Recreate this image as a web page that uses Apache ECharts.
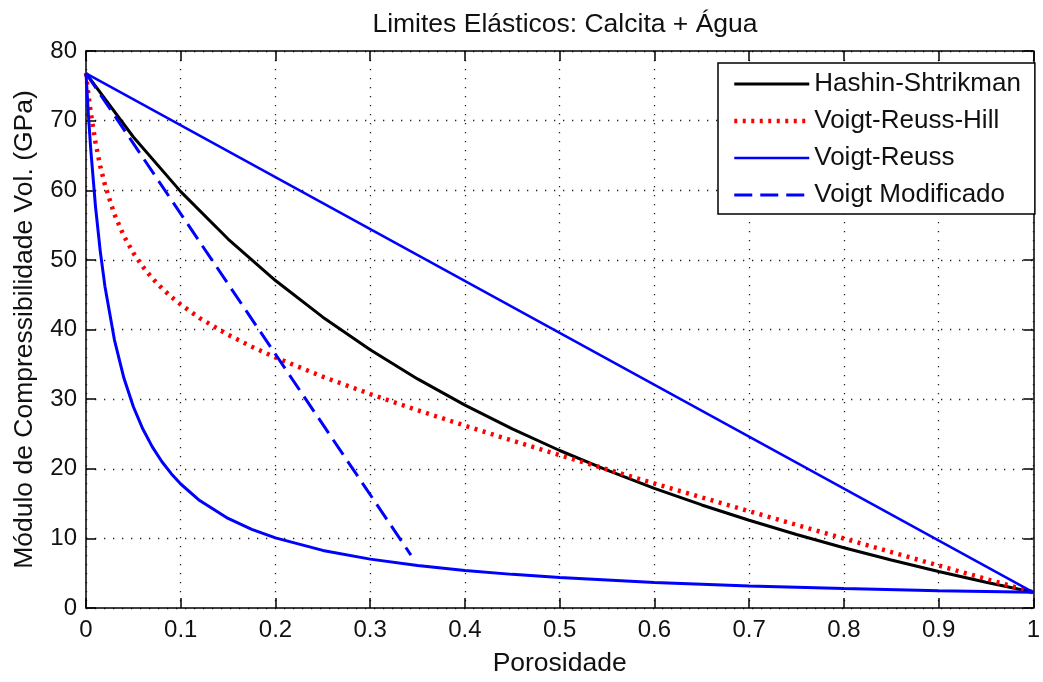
<!DOCTYPE html>
<html>
<head>
<meta charset="utf-8">
<script src="https://cdn.jsdelivr.net/npm/echarts@6/dist/echarts.min.js"></script>
<style>
  html, body { margin: 0; padding: 0; background: #fff; }
  #chart { width: 1043px; height: 682px; }
</style>
</head>
<body>
<div id="chart"></div>
<script>
// porosity samples (dense near 0 where the bounds bend fast)
const phiDense = [0, 0.0025, 0.005, 0.01, 0.015, 0.02, 0.03, 0.04, 0.05, 0.06, 0.07, 0.08, 0.09, 0.1, 0.12, 0.15, 0.175, 0.2, 0.25, 0.3, 0.35, 0.4, 0.45, 0.5, 0.6, 0.7, 0.8, 0.9, 1]
const kReuss = [76.8, 70.95, 65.89, 57.69, 51.3, 46.19, 38.52, 33.03, 28.91, 25.7, 23.14, 21.04, 19.29, 17.81, 15.43, 12.86, 11.3, 10.07, 8.27, 7.02, 6.1, 5.39, 4.83, 4.37, 3.68, 3.17, 2.79, 2.49, 2.25]
const kVRH = [76.8, 73.78, 71.16, 66.87, 63.49, 60.75, 56.54, 53.43, 50.99, 49.02, 47.36, 45.94, 44.69, 43.58, 41.64, 39.24, 37.53, 35.98, 33.22, 30.73, 28.41, 26.19, 24.04, 21.95, 17.88, 13.9, 9.98, 6.1, 2.25]

const phiHS = [0, 0.05, 0.1, 0.15, 0.2, 0.25, 0.3, 0.35, 0.4, 0.45, 0.5, 0.55, 0.6, 0.65, 0.7, 0.75, 0.8, 0.85, 0.9, 0.95, 1]
const kHS = [76.8, 67.65, 59.8, 52.99, 47.03, 41.77, 37.09, 32.9, 29.13, 25.72, 22.62, 19.79, 17.19, 14.8, 12.6, 10.55, 8.66, 6.89, 5.24, 3.7, 2.25]

const phiVoigt = [0, 1]
const kVoigt = [76.8, 2.25]

const phiModVoigt = [0, 0.343]
const kModVoigt = [76.8, 7.6]

const xTicks = { min: 0, max: 1, interval: 0.1 }
const yTicks = { min: 0, max: 80, interval: 10 }

const zip = (xs, ys) => xs.map((x, i) => [x, ys[i]])

const font = 'Liberation Sans, Arial, sans-serif'
const chart = echarts.init(document.getElementById('chart'), null, { renderer: 'canvas' })

const gridLine = { show: true, lineStyle: { color: '#222', width: 1.3, type: [1.3, 7.7] } }
const tickIn = { show: true, inside: true, length: 10, lineStyle: { color: '#000', width: 1.5 } }
const axisLine = { show: true, onZero: false, lineStyle: { color: '#000', width: 1.5 } }
const noMarker = { opacity: 0 }

const options = {
  animation: false,
  backgroundColor: '#fff',
  title: {
    text: 'Limites Elásticos: Calcita + Água',
    left: 560,
    top: 6,
    textAlign: 'center',
    textStyle: { fontFamily: font, fontSize: 26.5, fontWeight: 'normal', color: '#111' }
  },
  grid: { left: 86, right: 1, top: 51, bottom: 69, containLabel: false },
  legend: {
    orient: 'vertical',
    left: 718,
    top: 63,
    padding: [8, 14, 6, 14],
    itemWidth: 75,
    itemHeight: 20,
    itemGap: 11,
    itemStyle: noMarker,
    lineStyle: { width: 'inherit' },
    backgroundColor: '#fff',
    borderColor: '#000',
    borderWidth: 1.5,
    borderRadius: 0,
    textStyle: { fontFamily: font, fontSize: 26, lineHeight: 24, color: '#111' },
    data: ['Hashin-Shtrikman', 'Voigt-Reuss-Hill', 'Voigt-Reuss', 'Voigt Modificado']
  },
  xAxis: [
    {
      type: 'value',
      ...xTicks,
      position: 'bottom',
      name: 'Porosidade',
      nameLocation: 'middle',
      nameGap: 42,
      nameTextStyle: { fontFamily: font, fontSize: 26.5, color: '#111' },
      axisLine: axisLine,
      axisTick: tickIn,
      axisLabel: { fontFamily: font, fontSize: 24, color: '#111', margin: 10 },
      splitLine: gridLine
    },
    {
      type: 'value',
      ...xTicks,
      position: 'top',
      axisLine: axisLine,
      axisTick: tickIn,
      axisLabel: { show: false },
      splitLine: { show: false }
    }
  ],
  yAxis: [
    {
      type: 'value',
      ...yTicks,
      position: 'left',
      name: 'Módulo de Compressibilidade Vol. (GPa)',
      nameLocation: 'middle',
      nameGap: 48,
      nameTextStyle: { fontFamily: font, fontSize: 26.5, color: '#111' },
      axisLine: axisLine,
      axisTick: tickIn,
      axisLabel: { fontFamily: font, fontSize: 24, color: '#111', margin: 9 },
      splitLine: gridLine
    },
    {
      type: 'value',
      ...yTicks,
      position: 'right',
      axisLine: axisLine,
      axisTick: tickIn,
      axisLabel: { show: false },
      splitLine: { show: false }
    }
  ],
  series: [
    {
      name: 'Hashin-Shtrikman',
      type: 'line',
      data: zip(phiHS, kHS),
      symbol: 'none',
      lineStyle: { color: '#000', width: 3 },
      itemStyle: { color: '#000', opacity: 0 }
    },
    {
      name: 'Voigt-Reuss-Hill',
      type: 'line',
      data: zip(phiDense, kVRH),
      symbol: 'none',
      lineStyle: { color: '#ff0000', width: 4.5, type: [3, 5.5] },
      itemStyle: { color: '#ff0000', opacity: 0 }
    },
    {
      name: 'Voigt-Reuss',
      type: 'line',
      data: zip(phiVoigt, kVoigt),
      symbol: 'none',
      lineStyle: { color: '#0000ff', width: 2.5 },
      itemStyle: { color: '#0000ff', opacity: 0 }
    },
    {
      name: 'Voigt-Reuss',
      type: 'line',
      data: zip(phiDense, kReuss),
      symbol: 'none',
      lineStyle: { color: '#0000ff', width: 3 },
      itemStyle: { color: '#0000ff', opacity: 0 }
    },
    {
      name: 'Voigt Modificado',
      type: 'line',
      data: zip(phiModVoigt, kModVoigt),
      symbol: 'none',
      lineStyle: { color: '#0000ff', width: 3, type: [18, 8] },
      itemStyle: { color: '#0000ff', opacity: 0 }
    }
  ]
}
chart.setOption(options)
</script>
</body>
</html>
